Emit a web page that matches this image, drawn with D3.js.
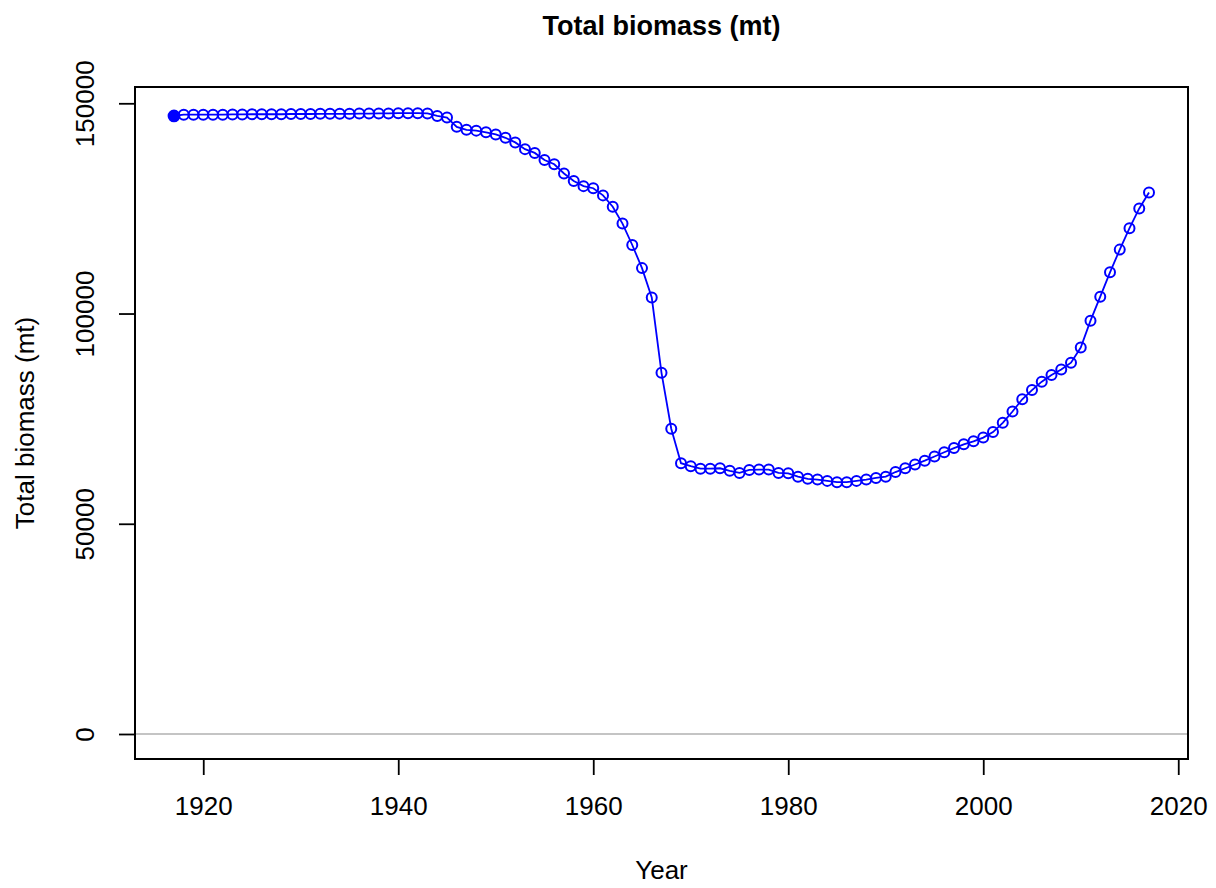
<!DOCTYPE html>
<html>
<head>
<meta charset="utf-8">
<script src="https://cdn.jsdelivr.net/npm/d3@7"></script>
<style>
  html, body { margin: 0; padding: 0; background: #fff; }
  svg { display: block; font-family: "Liberation Sans", Arial, sans-serif; }
</style>
</head>
<body>
<svg id="chart" width="1216" height="888"></svg>
<script>
// ---- data ----
const years = [
  1917,1918,1919,1920,1921,1922,1923,1924,1925,1926,1927,1928,1929,1930,1931,1932,1933,1934,1935,1936,
  1937,1938,1939,1940,1941,1942,1943,1944,1945,1946,1947,1948,1949,1950,1951,1952,1953,1954,1955,1956,
  1957,1958,1959,1960,1961,1962,1963,1964,1965,1966,1967,1968,1969,1970,1971,1972,1973,1974,1975,1976,
  1977,1978,1979,1980,1981,1982,1983,1984,1985,1986,1987,1988,1989,1990,1991,1992,1993,1994,1995,1996,
  1997,1998,1999,2000,2001,2002,2003,2004,2005,2006,2007,2008,2009,2010,2011,2012,2013,2014,2015,2016,
  2017
];
const biomass = [
  147000,147300,147300,147300,147300,147300,147350,147350,147400,147400,147400,147400,147450,147450,147450,147500,147500,147500,147500,147550,
  147550,147600,147600,147650,147650,147650,147600,147000,146600,144400,143700,143500,143100,142600,141800,140700,139100,138200,136500,135500,
  133300,131500,130300,129800,128100,125400,121400,116300,110800,103800,85900,72600,64400,63700,63100,63100,63200,62600,62100,62800,
  62900,62900,62100,62000,61200,60700,60500,60200,59900,59900,60200,60500,60900,61200,62300,63200,64100,65000,66000,67000,
  68000,68900,69600,70500,71800,74000,76700,79600,81800,83800,85400,86700,88300,91900,98300,104000,109800,115200,120300,125000,
  128800
];
const xTicks = [1920, 1940, 1960, 1980, 2000, 2020];
const yTicks = [0, 50000, 100000, 150000];
const titleText = "Total biomass (mt)";
const xLabel = "Year";
const yLabel = "Total biomass (mt)";

// ---- layout ----
const box = { left: 135, right: 1188, top: 87, bottom: 759 };
const svg = d3.select("#chart");

const x = d3.scaleLinear().domain([1913, 2021]).range([box.left, box.right]);
const y = d3.scaleLinear().domain([-5946, 153876]).range([box.bottom, box.top]);

const data = years.map((yr, i) => ({ year: yr, value: biomass[i] }));
const blue = "#0000ff";

// horizontal reference line at 0
svg.append("line")
  .attr("x1", box.left).attr("x2", box.right)
  .attr("y1", y(0)).attr("y2", y(0))
  .attr("stroke", "#c4c4c4").attr("stroke-width", 1.8);

// line
svg.append("path")
  .datum(data)
  .attr("fill", "none")
  .attr("stroke", blue)
  .attr("stroke-width", 1.8)
  .attr("d", d3.line().x(d => x(d.year)).y(d => y(d.value)));

// points
svg.append("g").selectAll("circle")
  .data(data)
  .join("circle")
  .attr("cx", d => x(d.year))
  .attr("cy", d => y(d.value))
  .attr("r", (d, i) => i === 0 ? 5.4 : 5)
  .attr("fill", (d, i) => i === 0 ? blue : "none")
  .attr("stroke", blue)
  .attr("stroke-width", 2);

// box
svg.append("rect")
  .attr("x", box.left).attr("y", box.top)
  .attr("width", box.right - box.left).attr("height", box.bottom - box.top)
  .attr("fill", "none").attr("stroke", "#000").attr("stroke-width", 2);

// x axis
const xAxis = d3.axisBottom(x)
  .tickValues(xTicks)
  .tickFormat(d3.format("d"))
  .tickSize(16)
  .tickSizeOuter(0)
  .tickPadding(22);
const gx = svg.append("g")
  .attr("transform", `translate(0,${box.bottom})`)
  .call(xAxis);
gx.select(".domain").remove();
gx.selectAll(".tick line").attr("stroke", "#000").attr("stroke-width", 1.8);
gx.selectAll(".tick text")
  .attr("fill", "#000")
  .attr("font-size", 26)
  .attr("font-family", "Liberation Sans, Arial, sans-serif");

// y axis
const yAxis = d3.axisLeft(y)
  .tickValues(yTicks)
  .tickFormat(d3.format("d"))
  .tickSize(16)
  .tickSizeOuter(0);
const gy = svg.append("g")
  .attr("transform", `translate(${box.left},0)`)
  .call(yAxis);
gy.select(".domain").remove();
gy.selectAll(".tick line").attr("stroke", "#000").attr("stroke-width", 1.8);
gy.selectAll(".tick text")
  .attr("fill", "#000")
  .attr("font-size", 26)
  .attr("font-family", "Liberation Sans, Arial, sans-serif")
  .attr("x", null).attr("dy", null)
  .attr("text-anchor", "middle")
  .attr("transform", "translate(-41,0) rotate(-90)");

// axis lines spanning ticks (R style)
svg.append("line")
  .attr("x1", x(xTicks[0])).attr("x2", x(xTicks[xTicks.length - 1]))
  .attr("y1", box.bottom).attr("y2", box.bottom)
  .attr("stroke", "#000").attr("stroke-width", 2);
svg.append("line")
  .attr("x1", box.left).attr("x2", box.left)
  .attr("y1", y(yTicks[0])).attr("y2", y(yTicks[yTicks.length - 1]))
  .attr("stroke", "#000").attr("stroke-width", 2);

// title
svg.append("text")
  .attr("x", (box.left + box.right) / 2)
  .attr("y", 35)
  .attr("text-anchor", "middle")
  .attr("font-size", 27)
  .attr("font-weight", "bold")
  .attr("fill", "#000")
  .text(titleText);

// x label
svg.append("text")
  .attr("x", (box.left + box.right) / 2)
  .attr("y", 879)
  .attr("text-anchor", "middle")
  .attr("font-size", 26)
  .attr("fill", "#000")
  .text(xLabel);

// y label
svg.append("text")
  .attr("transform", `translate(34,${(box.top + box.bottom) / 2}) rotate(-90)`)
  .attr("text-anchor", "middle")
  .attr("font-size", 26)
  .attr("fill", "#000")
  .text(yLabel);
</script>
</body>
</html>
